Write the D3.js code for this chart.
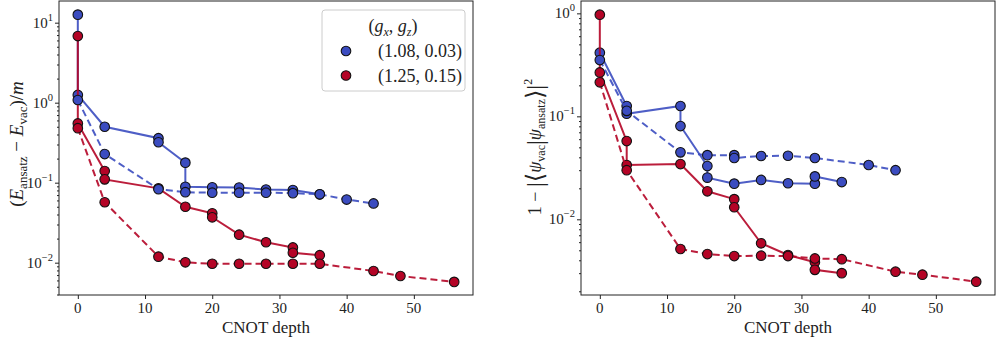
<!DOCTYPE html>
<html>
<head>
<meta charset="utf-8">
<script src="https://cdn.jsdelivr.net/npm/d3@7"></script>
<style>
  body { margin: 0; background: #fff; }
  text { font-family: "Liberation Serif", "DejaVu Serif", serif; fill: #222; }
</style>
</head>
<body>
<svg id="chart" width="997" height="337"></svg>
<script>
// Valeurs (profondeur CNOT, erreur)
// panneau gauche : énergie
const energyBlueSolidX = [0, 0, 4, 12, 12, 16, 16, 20, 24, 28, 32, 36];
const energyBlueSolidY = [12.6, 1.25, 0.5, 0.36, 0.32, 0.178, 0.089, 0.0875, 0.087, 0.082, 0.081, 0.0716];
const energyRedSolidX = [0, 0, 4, 4, 12, 16, 20, 20, 24, 28, 32, 32, 36];
const energyRedSolidY = [6.8, 0.55, 0.14, 0.11, 0.085, 0.05, 0.0414, 0.0369, 0.0224, 0.018, 0.0155, 0.0133, 0.0124];
const energyBlueDashX = [0, 4, 12, 16, 20, 24, 28, 32, 36, 40, 44];
const energyBlueDashY = [1.08, 0.228, 0.083, 0.076, 0.075, 0.075, 0.075, 0.074, 0.0716, 0.0615, 0.055];
const energyRedDashX = [0, 4, 12, 16, 20, 24, 28, 32, 36, 44, 48, 56];
const energyRedDashY = [0.48, 0.0569, 0.0119, 0.0101, 0.0097, 0.0097, 0.0097, 0.0097, 0.0097, 0.00787, 0.00682, 0.00575];

// panneau droit : infidélité
const fidBlueSolidX = [0, 4, 4, 12, 12, 16, 16, 20, 24, 28, 32, 32, 36];
const fidBlueSolidY = [0.415, 0.126, 0.106, 0.126, 0.0805, 0.0329, 0.0254, 0.0222, 0.0241, 0.0224, 0.0222, 0.0261, 0.023];
const fidRedSolidX = [0, 0, 4, 4, 12, 16, 20, 20, 24, 28, 32, 32, 36];
const fidRedSolidY = [0.97, 0.267, 0.0575, 0.0337, 0.0344, 0.0187, 0.0157, 0.0131, 0.00585, 0.0045, 0.00383, 0.00323, 0.003];
const fidBlueDashX = [0, 4, 12, 16, 20, 20, 24, 28, 32, 40, 44];
const fidBlueDashY = [0.352, 0.113, 0.0447, 0.042, 0.042, 0.0394, 0.0412, 0.0414, 0.0394, 0.0337, 0.030];
const fidRedDashX = [0, 4, 12, 16, 20, 24, 28, 32, 36, 44, 48, 56];
const fidRedDashY = [0.214, 0.030, 0.00515, 0.0046, 0.0044, 0.00443, 0.0044, 0.00417, 0.0041, 0.0031, 0.0029, 0.00248];

const legendLabels = ["(1.08, 0.03)", "(1.25, 0.15)"];
const xTicks = [0, 10, 20, 30, 40, 50];
const leftExponents = [-2, -1, 0, 1];
const rightExponents = [-2, -1, 0];

const blue = "#3b4cc0", red = "#b40426";
const svg = d3.select("#chart");

const zip = (xs, ys) => xs.map((x, i) => [x, ys[i]]);

function drawPanel(box, series, exponents) {
    const g = svg.append("g");
    const x = d3.scaleLinear().domain(box.xDomain).range([box.x0, box.x1]);
    const y = d3.scaleLog().domain(box.yDomain).range([box.y1, box.y0]);

    // ticks
    const xAxis = d3.axisBottom(x).tickValues(xTicks).tickSize(4).tickFormat("");
    g.append("g").attr("transform", `translate(0,${box.y1})`).call(xAxis)
        .call(a => a.select(".domain").remove());
    g.selectAll(".xlab").data(xTicks).enter().append("text")
        .attr("x", d => x(d)).attr("y", box.y1 + 18)
        .attr("text-anchor", "middle").attr("font-size", 15)
        .text(d => d);

    const [lo, hi] = y.domain();
    const minor = [];
    for (let e = Math.floor(Math.log10(lo)); e <= Math.ceil(Math.log10(hi)); e++) {
        for (let k = 2; k < 10; k++) {
            const v = k * Math.pow(10, e);
            if (v >= lo && v <= hi) minor.push(v);
        }
    }
    g.append("g").attr("transform", `translate(${box.x0},0)`)
        .call(d3.axisLeft(y).tickValues(minor).tickSize(2).tickFormat(""))
        .call(a => a.select(".domain").remove());
    g.append("g").attr("transform", `translate(${box.x0},0)`)
        .call(d3.axisLeft(y).tickValues(exponents.map(e => Math.pow(10, e))).tickSize(4).tickFormat(""))
        .call(a => a.select(".domain").remove());
    const ylab = g.selectAll(".ylab").data(exponents).enter().append("text")
        .attr("x", box.x0 - 6).attr("y", d => y(Math.pow(10, d)) + 5)
        .attr("text-anchor", "end").attr("font-size", 15);
    ylab.append("tspan").text("10");
    ylab.append("tspan").attr("dy", -7).attr("font-size", 10.5)
        .text(d => d < 0 ? "\u2212" + (-d) : d);

    g.selectAll(".tick line").attr("stroke", "#222");

    // séries
    const line = d3.line().x(d => x(d[0])).y(d => y(d[1]));
    series.forEach(s => {
        const pts = zip(s.xs, s.ys);
        g.append("path").datum(pts)
            .attr("d", line)
            .attr("fill", "none")
            .attr("stroke", s.color)
            .attr("stroke-width", 2)
            .attr("stroke-opacity", 0.9)
            .attr("stroke-dasharray", s.dashed ? "7,4" : null);
        g.selectAll(null).data(pts).enter().append("circle")
            .attr("cx", d => x(d[0])).attr("cy", d => y(d[1]))
            .attr("r", 4.8)
            .attr("fill", s.color)
            .attr("stroke", "#111").attr("stroke-width", 1.1);
    });

    // cadre
    g.append("rect")
        .attr("x", box.x0).attr("y", box.y0)
        .attr("width", box.x1 - box.x0).attr("height", box.y1 - box.y0)
        .attr("fill", "none").attr("stroke", "#222").attr("stroke-width", 1);

    g.append("text")
        .attr("x", (box.x0 + box.x1) / 2).attr("y", 333)
        .attr("text-anchor", "middle").attr("font-size", 17)
        .text("CNOT depth");
    return g;
}

const leftBox = { x0: 59, x1: 473, y0: 1, y1: 295, xDomain: [-2.8, 58.8], yDomain: [Math.pow(10, -2.404), Math.pow(10, 1.271)] };
const rightBox = { x0: 581, x1: 995, y0: 1, y1: 295, xDomain: [-2.8, 58.8], yDomain: [Math.pow(10, -2.735), Math.pow(10, 0.12)] };

const gl = drawPanel(leftBox, [
    { xs: energyBlueSolidX, ys: energyBlueSolidY, color: blue, dashed: false },
    { xs: energyRedSolidX, ys: energyRedSolidY, color: red, dashed: false },
    { xs: energyBlueDashX, ys: energyBlueDashY, color: blue, dashed: true },
    { xs: energyRedDashX, ys: energyRedDashY, color: red, dashed: true }
], leftExponents);

const gr = drawPanel(rightBox, [
    { xs: fidBlueSolidX, ys: fidBlueSolidY, color: blue, dashed: false },
    { xs: fidRedSolidX, ys: fidRedSolidY, color: red, dashed: false },
    { xs: fidBlueDashX, ys: fidBlueDashY, color: blue, dashed: true },
    { xs: fidRedDashX, ys: fidRedDashY, color: red, dashed: true }
], rightExponents);

// Titres des axes y
const tl = gl.append("text")
    .attr("transform", "translate(23,144) rotate(-90)")
    .attr("text-anchor", "middle").attr("font-size", 19);
tl.append("tspan").text("(");
tl.append("tspan").attr("font-style", "italic").text("E");
tl.append("tspan").attr("font-size", 13).attr("dy", 4).text("ansatz");
tl.append("tspan").attr("dy", -4).text(" \u2212 ");
tl.append("tspan").attr("font-style", "italic").text("E");
tl.append("tspan").attr("font-size", 13).attr("dy", 4).text("vac");
tl.append("tspan").attr("dy", -4).text(")/");
tl.append("tspan").attr("font-style", "italic").text("m");

const tr = gr.append("text")
    .attr("transform", "translate(541,147) rotate(-90)")
    .attr("text-anchor", "middle").attr("font-size", 18);
tr.append("tspan").text("1 \u2212 ");
tr.append("tspan").attr("font-size", 24).attr("dy", 2).text("|\u27e8");
tr.append("tspan").attr("font-style", "italic").attr("dy", -2).text("\u03c8");
tr.append("tspan").attr("font-size", 12).attr("dy", 4).text("vac");
tr.append("tspan").attr("font-size", 24).attr("dy", -2).text("|");
tr.append("tspan").attr("font-style", "italic").attr("dy", -2).text("\u03c8");
tr.append("tspan").attr("font-size", 12).attr("dy", 4).text("ansatz");
tr.append("tspan").attr("font-size", 24).attr("dy", -2).text("\u27e9|");
tr.append("tspan").attr("font-size", 12).attr("dy", -11).text("2");

// Légende
const leg = gl.append("g");
leg.append("rect")
    .attr("x", 322).attr("y", 10).attr("width", 143).attr("height", 81)
    .attr("rx", 3).attr("fill", "#fff").attr("fill-opacity", 0.8)
    .attr("stroke", "#ccc").attr("stroke-width", 1);
const lt = leg.append("text").attr("x", 393).attr("y", 32)
    .attr("text-anchor", "middle").attr("font-size", 18);
lt.append("tspan").text("(");
lt.append("tspan").attr("font-style", "italic").text("g");
lt.append("tspan").attr("font-style", "italic").attr("font-size", 12).attr("dy", 4).text("x");
lt.append("tspan").attr("dy", -4).text(", ");
lt.append("tspan").attr("font-style", "italic").text("g");
lt.append("tspan").attr("font-style", "italic").attr("font-size", 12).attr("dy", 4).text("z");
lt.append("tspan").attr("dy", -4).text(")");

leg.selectAll(".ldot").data([blue, red]).enter().append("circle")
    .attr("cx", 346).attr("cy", (d, i) => 51 + i * 24.5)
    .attr("r", 4.8).attr("fill", d => d)
    .attr("stroke", "#111").attr("stroke-width", 1.1);
leg.selectAll(".ltxt").data(legendLabels).enter().append("text")
    .attr("x", 462).attr("y", (d, i) => 57 + i * 24.5)
    .attr("text-anchor", "end").attr("font-size", 18)
    .text(d => d);
</script>
</body>
</html>
